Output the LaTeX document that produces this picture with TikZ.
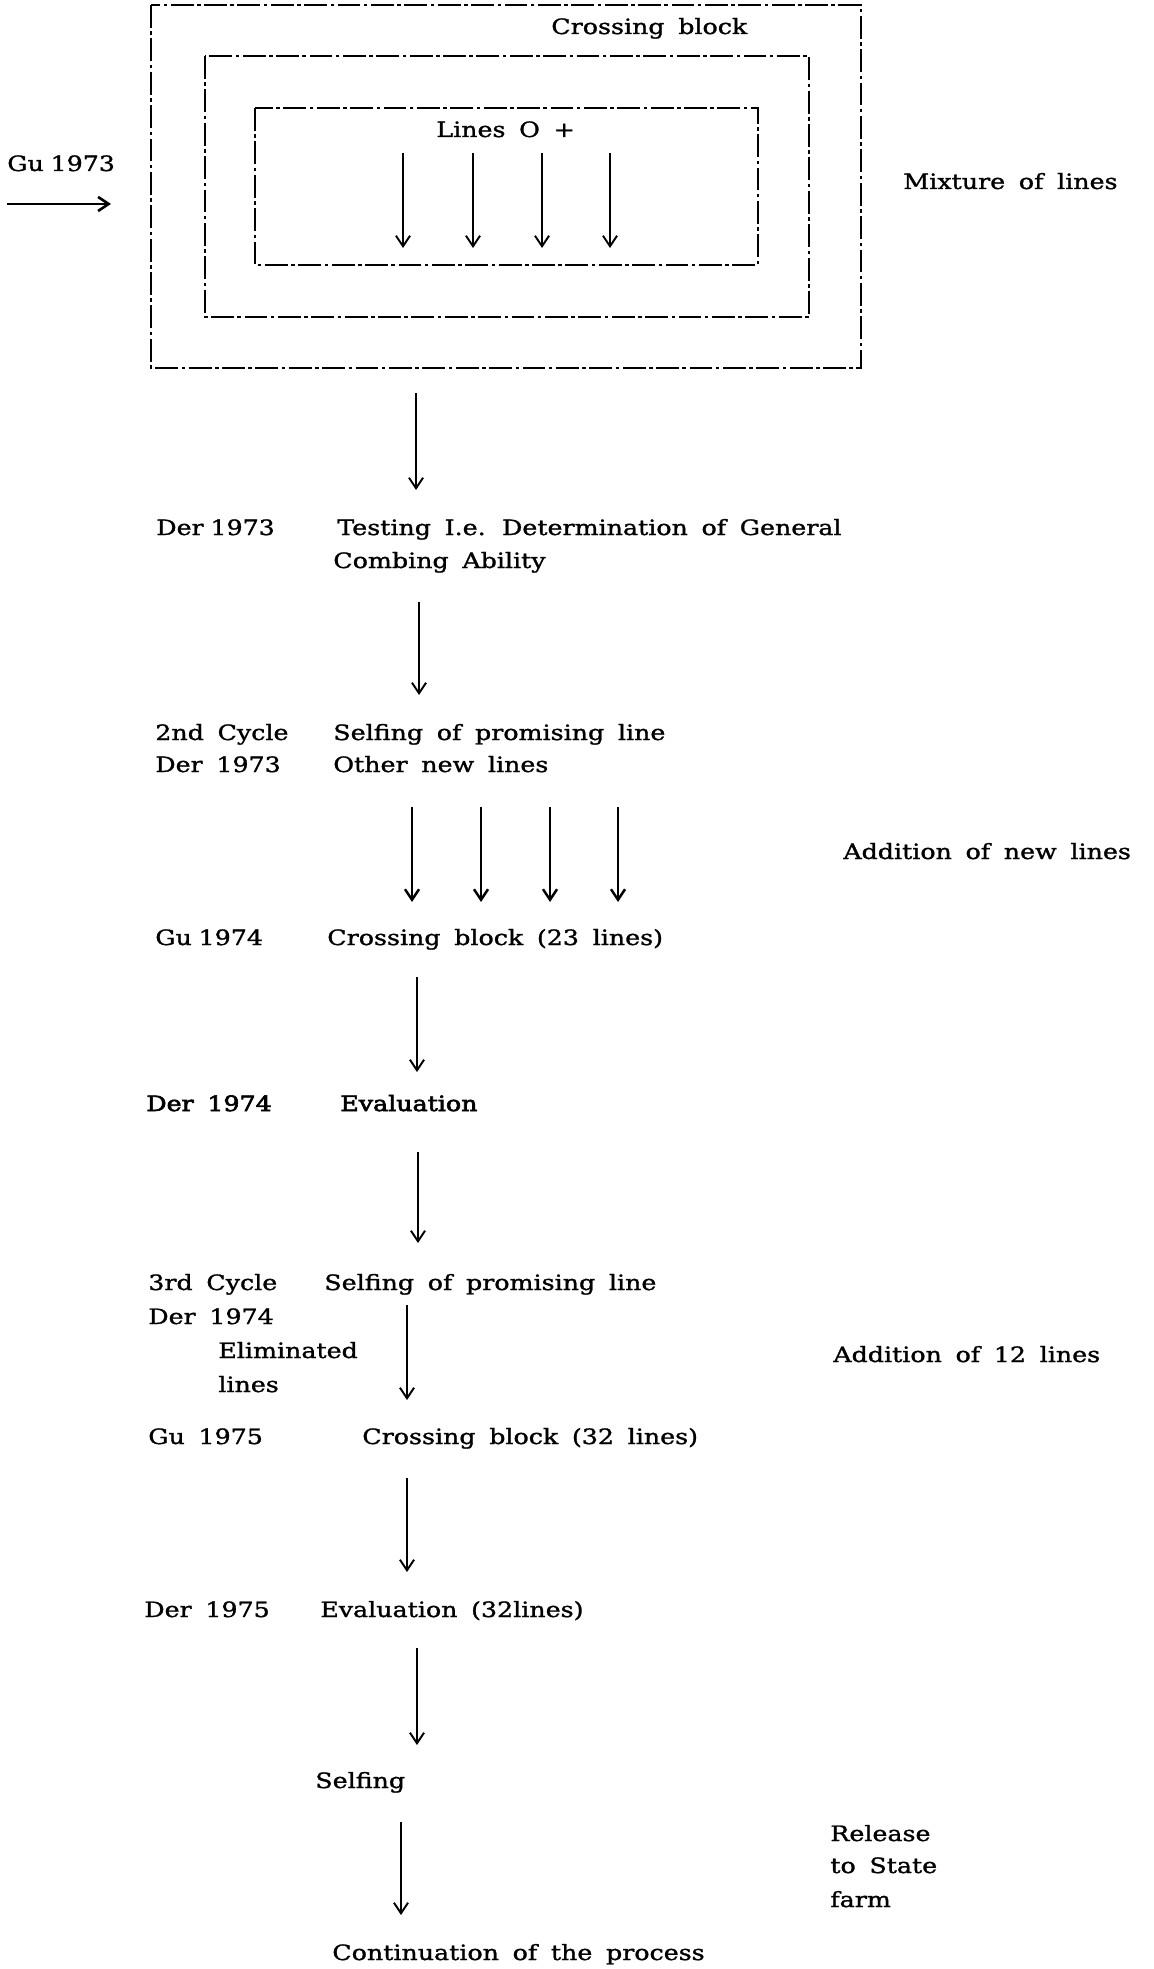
\documentclass[tikz,border=0pt]{standalone}
\usepackage{fontspec}
\setmainfont{DejaVu Serif}[FakeStretch=1.2,WordSpace=1.7,FakeBold=1.3]
\newfontfamily\heavyfont{DejaVu Serif}[FakeStretch=1.2,WordSpace=1.7,FakeBold=3]
\usepackage{tikz}
\usetikzlibrary{arrows.meta}

\newcommand{\nsp}{\hspace{0.32em}}

\tikzset{
	lbl/.style={anchor=base west, inner sep=0pt, font=\fontsize{12}{18.8}\selectfont},
	flow/.style={line width=1.1pt, -{Straight Barb[length=6pt,width=8pt]}},
	blockedge/.style={line width=0.6pt, dash pattern=on 13pt off 2pt on 2pt off 2pt}
}

\begin{document}
\begin{tikzpicture}
	\useasboundingbox (0,0) rectangle (23.06,-39.38);
	
	% crossing block, three nested frames
	\draw[blockedge] (3.02,-0.10) rectangle (17.22,-7.36);
	\draw[blockedge] (4.10,-1.12) rectangle (16.18,-6.34);
	\draw[blockedge] (5.10,-2.16) rectangle (15.16,-5.30);
	\node[lbl] (cblock) at (11.02,-0.68) {Crossing block};
	\node[lbl] (lineso) at (8.72,-2.74) {Lines O +};
	
	% lines going into the block
	\coordinate (in1s) at (8.06,-3.06);
	\coordinate (in1e) at (8.06,-4.96);
	\coordinate (in2s) at (9.46,-3.06);
	\coordinate (in2e) at (9.46,-4.96);
	\coordinate (in3s) at (10.84,-3.06);
	\coordinate (in3e) at (10.84,-4.96);
	\coordinate (in4s) at (12.20,-3.06);
	\coordinate (in4e) at (12.20,-4.96);
	\draw[flow] (in1s) -- (in1e);
	\draw[flow] (in2s) -- (in2e);
	\draw[flow] (in3s) -- (in3e);
	\draw[flow] (in4s) -- (in4e);
	
	% season on the left, note on the right
	\node[lbl] (gu73) at (0.14,-3.42) {Gu\nsp1973};
	\coordinate (gu73s) at (0.14,-4.08);
	\coordinate (gu73e) at (2.22,-4.08);
	\draw[flow, line width=1.5pt] (gu73s) -- (gu73e);
	\node[lbl] (mixture) at (18.06,-3.78) {Mixture of lines};
	
	% block -> testing
	\coordinate (a1s) at (8.32,-7.86);
	\coordinate (a1e) at (8.32,-9.80);
	\draw[flow] (a1s) -- (a1e);
	\node[lbl] (der73) at (3.12,-10.70) {Der\nsp1973};
	\node[lbl] (testing) at (6.74,-10.70) {Testing I.e. Determination of General};
	\node[lbl] (combing) at (6.66,-11.36) {Combing\ Ability};
	
	% testing -> 2nd cycle
	\coordinate (a2s) at (8.38,-12.04);
	\coordinate (a2e) at (8.38,-13.90);
	\draw[flow] (a2s) -- (a2e);
	\node[lbl] (cycle2) at (3.10,-14.80) {2nd Cycle};
	\node[lbl] (selfing2) at (6.66,-14.80) {Selfing\ of\ promising\ line};
	\node[lbl] (der73b) at (3.10,-15.44) {Der 1973};
	\node[lbl] (othernew) at (6.66,-15.44) {Other new lines};
	
	% new lines added
	\coordinate (n1s) at (8.24,-16.14);
	\coordinate (n1e) at (8.24,-18.04);
	\coordinate (n2s) at (9.62,-16.14);
	\coordinate (n2e) at (9.62,-18.04);
	\coordinate (n3s) at (11.00,-16.14);
	\coordinate (n3e) at (11.00,-18.04);
	\coordinate (n4s) at (12.36,-16.14);
	\coordinate (n4e) at (12.36,-18.04);
	\draw[flow, line width=1.4pt] (n1s) -- (n1e);
	\draw[flow, line width=1.4pt] (n2s) -- (n2e);
	\draw[flow, line width=1.4pt] (n3s) -- (n3e);
	\draw[flow, line width=1.4pt] (n4s) -- (n4e);
	\node[lbl] (addnew) at (16.86,-17.18) {Addition of new lines};
	
	% Gu 1974 crossing block
	\node[lbl] (gu74) at (3.10,-18.90) {Gu\nsp1974};
	\node[lbl] (cblock23) at (6.54,-18.90) {Crossing\ block\ (23\ lines)};
	\coordinate (a3s) at (8.34,-19.54);
	\coordinate (a3e) at (8.34,-21.44);
	\draw[flow] (a3s) -- (a3e);
	
	% Der 1974 evaluation
	\node[lbl, font=\fontsize{12}{18.8}\heavyfont] (der74) at (2.92,-22.22) {Der 1974};
	\node[lbl, font=\fontsize{12}{18.8}\heavyfont] (eval74) at (6.80,-22.22) {Evaluation};
	\coordinate (a4s) at (8.36,-23.04);
	\coordinate (a4e) at (8.36,-24.86);
	\draw[flow] (a4s) -- (a4e);
	
	% 3rd cycle
	\node[lbl] (cycle3) at (2.96,-25.80) {3rd Cycle};
	\node[lbl] (selfing3) at (6.48,-25.80) {Selfing of promising line};
	\node[lbl] (der74b) at (2.96,-26.48) {Der 1974};
	\node[lbl] (elim) at (4.36,-27.16) {Eliminated};
	\node[lbl] (elimlines) at (4.36,-27.84) {lines};
	\coordinate (a5s) at (8.14,-26.10);
	\coordinate (a5e) at (8.14,-28.00);
	\draw[flow] (a5s) -- (a5e);
	\node[lbl] (add12) at (16.66,-27.24) {Addition of 12 lines};
	
	% Gu 1975 crossing block
	\node[lbl] (gu75) at (2.96,-28.88) {Gu 1975};
	\node[lbl] (cblock32) at (7.24,-28.88) {Crossing block (32 lines)};
	\coordinate (a6s) at (8.14,-29.56);
	\coordinate (a6e) at (8.14,-31.44);
	\draw[flow] (a6s) -- (a6e);
	
	% Der 1975 evaluation
	\node[lbl] (der75) at (2.88,-32.34) {Der 1975};
	\node[lbl] (eval75) at (6.40,-32.34) {Evaluation (32lines)};
	\coordinate (a7s) at (8.34,-32.96);
	\coordinate (a7e) at (8.34,-34.90);
	\draw[flow] (a7s) -- (a7e);
	
	% selfing and release
	\node[lbl] (selfing) at (6.30,-35.76) {Selfing};
	\coordinate (a8s) at (8.02,-36.44);
	\coordinate (a8e) at (8.02,-38.30);
	\draw[flow] (a8s) -- (a8e);
	\node[lbl] (release) at (16.60,-36.82) {Release};
	\node[lbl] (tostate) at (16.60,-37.46) {to State};
	\node[lbl] (farm) at (16.60,-38.14) {farm};
	\node[lbl] (contin) at (6.64,-39.20) {Continuation of the process};
\end{tikzpicture}
\end{document}
